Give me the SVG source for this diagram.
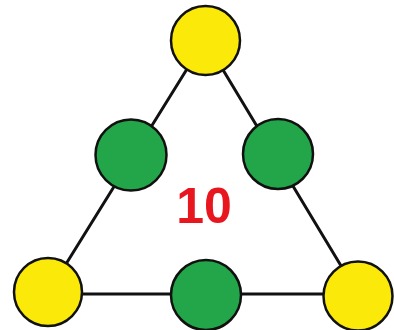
<svg xmlns="http://www.w3.org/2000/svg" width="394" height="330" viewBox="0 0 394 330">
<style>
.edge{stroke:#111;stroke-width:3;fill:none;stroke-linecap:round}
.y{fill:#fbe90a;stroke:#111;stroke-width:2.5}
.g{fill:#22a649;stroke:#111;stroke-width:2.5}
.lbl{font-family:"Liberation Sans",Arial,sans-serif;font-weight:bold;font-size:50px;fill:#e8161f;text-anchor:middle}
</style>
<rect width="394" height="330" fill="#fff"/>
<g id="connectors">
<line class="edge" x1="205" y1="40" x2="48" y2="293"/>
<line class="edge" x1="205" y1="40" x2="358" y2="294"/>
<line class="edge" x1="48" y1="294" x2="358" y2="294"/>
</g>
<g id="top"><circle class="y" cx="205.5" cy="40.5" r="34.5"/></g>
<g id="left-mid"><circle class="g" cx="131" cy="155" r="35.5"/></g>
<g id="right-mid"><circle class="g" cx="278" cy="154" r="35"/></g>
<g id="bottom-left"><circle class="y" cx="48" cy="292" r="34"/></g>
<g id="bottom-mid"><circle class="g" cx="206" cy="295" r="35"/></g>
<g id="bottom-right"><circle class="y" cx="358" cy="296" r="34.5"/></g>
<g id="center-label"><text class="lbl" x="204" y="223">10</text></g>
</svg>
